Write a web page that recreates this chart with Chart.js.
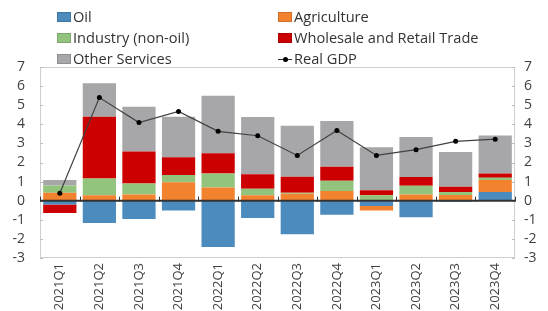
<!DOCTYPE html>
<html>
<head>
<meta charset="utf-8">
<script src="https://cdn.jsdelivr.net/npm/chart.js@4/dist/chart.umd.min.js"></script>
<style>
  html, body { margin: 0; padding: 0; background: #fff; }
  #wrap { position: relative; width: 548px; height: 311px; }
  #legend { position: absolute; left: 57px; top: 6px; width: 480px; font-family: "Open Sans", sans-serif; font-size: 14.6px; color: #333; }
  .item { position: absolute; white-space: nowrap; line-height: 20px; height: 20px; }
  .box { display: inline-block; width: 14px; height: 10px; vertical-align: middle; margin-right: 2px; margin-top: -2px; box-sizing: border-box; }
  .ln { display: inline-block; width: 14px; height: 10px; vertical-align: middle; margin-right: 2px; margin-top: -2px; position: relative; }
  .ln:before { content: ""; position: absolute; left: 0; right: 0; top: 5px; height: 1px; background: #333; }
  .ln:after { content: ""; position: absolute; left: 5px; top: 3px; width: 5px; height: 5px; border-radius: 50%; background: #000; }
</style>
</head>
<body>
<div id="wrap">
  <canvas id="c" width="548" height="311"></canvas>
  <div id="legend"></div>
</div>
<script>
const categories = ['2021Q1','2021Q2','2021Q3','2021Q4','2022Q1','2022Q2','2022Q3','2022Q4','2023Q1','2023Q2','2023Q3','2023Q4'];
const oil       = [-0.20, -1.17, -0.96, -0.51, -2.42, -0.90, -1.75, -0.73, -0.28, -0.87, -0.05, 0.46];
const agri      = [ 0.42,  0.28,  0.32,  0.96,  0.69,  0.28,  0.37,  0.51, -0.23,  0.32,  0.30, 0.62];
const industry  = [ 0.38,  0.88,  0.58,  0.39,  0.74,  0.35,  0.05,  0.53,  0.28,  0.46,  0.16, 0.12];
const wholesale = [-0.45,  3.24,  1.68,  0.92,  1.06,  0.76,  0.83,  0.74,  0.27,  0.46,  0.27, 0.23];
const other     = [ 0.28,  1.75,  2.34,  2.12,  3.01,  2.99,  2.67,  2.39,  2.25,  2.10,  1.82, 1.98];
const gdp       = [ 0.39,  5.40,  4.09,  4.67,  3.63,  3.40,  2.37,  3.68,  2.37,  2.67,  3.11, 3.22];
const yTicks    = [-3, -2, -1, 0, 1, 2, 3, 4, 5, 6, 7];

const FONT = '"Open Sans", sans-serif';
const bar = (label, data, color) => ({
  type: 'bar', label, data, backgroundColor: color, borderWidth: 0,
  stack: 'sectors', order: 2, barPercentage: 0.84, categoryPercentage: 1.0, yAxisID: 'y'
});

const datasets = [
  bar('Oil', oil, '#4b8bbe'),
  bar('Agriculture', agri, '#f3822f'),
  bar('Industry (non-oil)', industry, '#93c47d'),
  bar('Wholesale and Retail Trade', wholesale, '#cc0000'),
  bar('Other Services', other, '#a7a7aa'),
  { type: 'line', label: 'Real GDP', data: gdp, borderColor: '#404040', borderWidth: 1.2,
    pointRadius: 2.5, pointBackgroundColor: '#000', pointBorderColor: '#000', pointBorderWidth: 0,
    stack: 'gdp', order: 0, yAxisID: 'y', tension: 0 }
];

// HTML legend in two columns
const legendPos = [[0,0],[221,0],[0,21],[221,21],[0,42],[221,42]];
const lg = document.getElementById('legend');
datasets.forEach((d, i) => {
  const el = document.createElement('div');
  el.className = 'item';
  el.style.left = legendPos[i][0] + 'px';
  el.style.top = legendPos[i][1] + 'px';
  if (d.type === 'bar') {
    el.innerHTML = '<span class="box" style="background:' + d.backgroundColor + ';border:1px solid rgba(0,0,0,0.15)"></span>' + d.label;
  } else {
    el.innerHTML = '<span class="ln"></span>' + d.label;
  }
  lg.appendChild(el);
});

const framePlugin = {
  id: 'frame',
  beforeDatasetsDraw(chart) {
    const { ctx, chartArea: a } = chart;
    ctx.save();
    ctx.strokeStyle = '#cfcfcf';
    ctx.lineWidth = 1;
    ctx.strokeRect(a.left + 0.5, a.top + 0.5, a.right - a.left - 1, a.bottom - a.top - 1);
    const y = chart.scales.y;
    ctx.strokeStyle = '#bdbdbd';
    yTicks.forEach(v => {
      const py = Math.round(y.getPixelForValue(v)) + 0.5;
      ctx.beginPath(); ctx.moveTo(a.left, py); ctx.lineTo(a.left + 3, py); ctx.stroke();
      ctx.beginPath(); ctx.moveTo(a.right, py); ctx.lineTo(a.right - 3, py); ctx.stroke();
    });
    ctx.restore();
  },
  afterDatasetsDraw(chart) {
    const { ctx, chartArea: a } = chart;
    const y = chart.scales.y, x = chart.scales.x;
    const y0 = y.getPixelForValue(0);
    ctx.save();
    ctx.strokeStyle = '#333';
    ctx.lineWidth = 2;
    ctx.beginPath(); ctx.moveTo(a.left, y0); ctx.lineTo(a.right, y0); ctx.stroke();
    ctx.lineWidth = 1;
    for (let i = 0; i <= categories.length; i++) {
      const px = Math.round(x.getPixelForValue(i - 0.5)) + 0.5;
      ctx.beginPath(); ctx.moveTo(px, y0 - 4); ctx.lineTo(px, y0 + 1); ctx.stroke();
    }
    ctx.restore();
  }
};

new Chart(document.getElementById('c'), {
  data: { labels: categories, datasets },
  plugins: [framePlugin],
  options: {
    responsive: false,
    animation: false,
    layout: { padding: { top: 67, bottom: 0, left: 0, right: 0 } },
    plugins: { legend: { display: false }, tooltip: { enabled: false } },
    scales: {
      x: {
        stacked: true,
        grid: { display: false, drawTicks: false },
        border: { display: false },
        ticks: { autoSkip: false, minRotation: 90, maxRotation: 90, padding: 5, color: '#404040', font: { family: FONT, size: 13 } },
        afterFit(s) { s.height = 53; }
      },
      y: {
        stacked: true, position: 'left', min: -3, max: 7,
        grid: { display: false, drawTicks: false },
        border: { display: false },
        ticks: { autoSkip: false, stepSize: 1, padding: 15, color: '#404040', font: { family: FONT, size: 14 } },
        afterFit(s) { s.width = 40; }
      },
      y2: {
        position: 'right', min: -3, max: 7,
        grid: { display: false, drawTicks: false },
        border: { display: false },
        ticks: { autoSkip: false, stepSize: 1, padding: 9, color: '#404040', font: { family: FONT, size: 14 } },
        afterFit(s) { s.width = 33; }
      }
    }
  }
});
</script>
</body>
</html>
